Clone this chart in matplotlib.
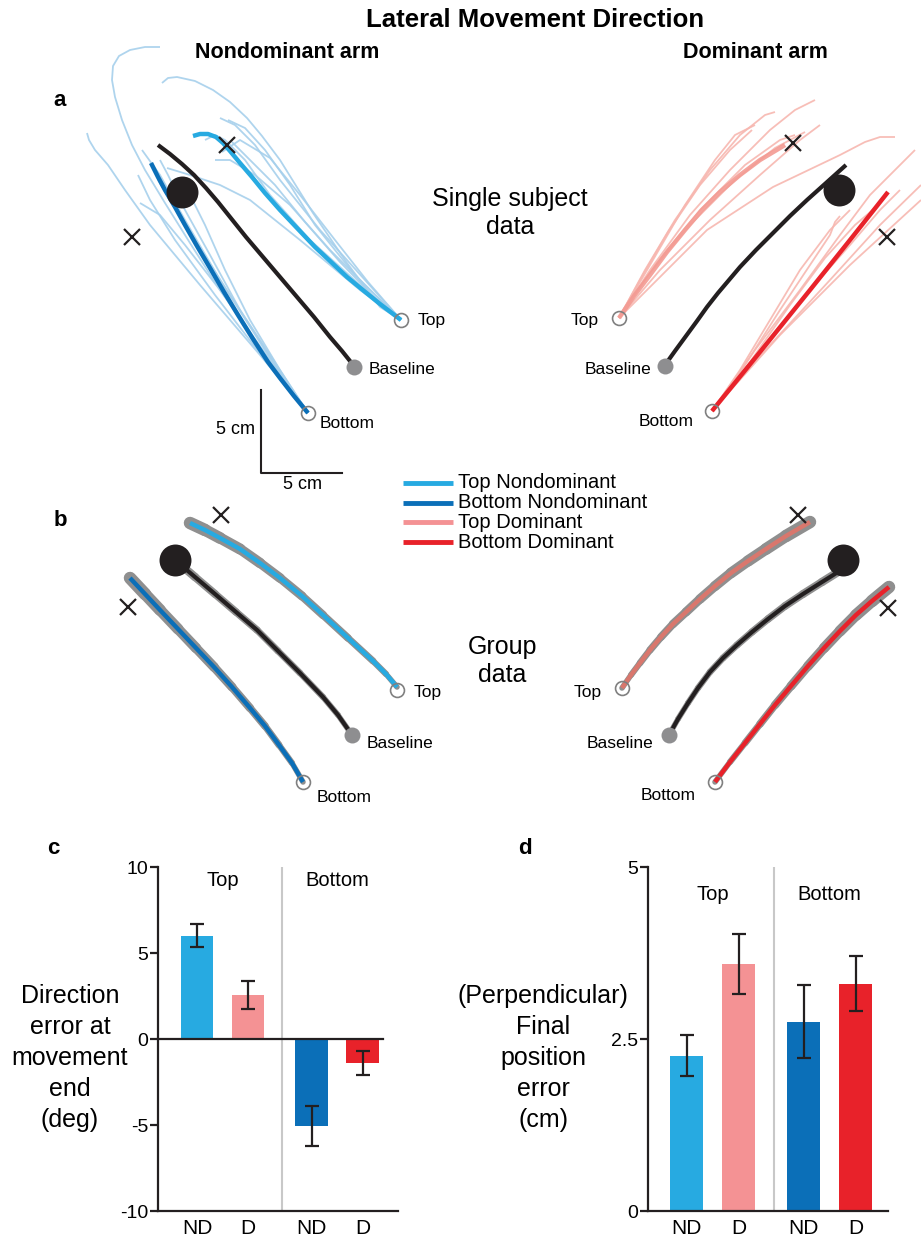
import numpy as np
import matplotlib
matplotlib.use("Agg")
import matplotlib.pyplot as plt
from matplotlib.collections import LineCollection

plt.rcParams['font.family'] = ['Liberation Sans', 'DejaVu Sans']

# ---------------- data: bar charts ----------------
bar_labels = ["ND", "D", "ND", "D"]
group_labels = ["Top", "Bottom"]
dir_err = [6.0, 2.55, -5.05, -1.4]
dir_sem = [0.68, 0.8, 1.15, 0.7]
pos_err = [2.26, 3.59, 2.75, 3.30]
pos_sem = [0.30, 0.43, 0.53, 0.40]
bar_x = [1, 2, 3.25, 4.25]
ylabel_c = ["Direction", "error at", "movement", "end", "(deg)"]
ylabel_d = ["(Perpendicular)", "Final", "position", "error", "(cm)"]

# ---------------- data: trajectories (figure pixel space) ----------------
# Panel a, nondominant arm
a_nd_baseline = [(158, 145), (170, 154), (182, 164), (194, 175), (206, 188), (218, 202), (230, 217),
                 (246, 237), (263, 257), (280, 277), (297, 297), (314, 317), (330, 337), (342, 351), (354, 366)]
a_nd_top_mean = [(193, 136), (200, 134), (208, 134), (216, 137), (223, 143), (230, 151), (240, 163),
                 (252, 177), (265, 193), (280, 210), (297, 228), (315, 247), (331, 262), (347, 277),
                 (364, 291), (380, 304), (401, 320)]
a_nd_bot_mean = [(151, 163), (158, 177), (165, 190), (175, 207), (185, 225), (197, 246), (210, 268),
                 (224, 292), (238, 315), (253, 339), (268, 362), (280, 378), (294, 396), (308, 413)]
a_nd_top_trials = [
    [(401, 320), (360, 285), (310, 240), (270, 195), (245, 160), (225, 140), (215, 135), (205, 140)],
    [(401, 320), (365, 280), (320, 230), (280, 180), (255, 145), (235, 125), (220, 118)],
    [(401, 320), (370, 290), (330, 250), (290, 205), (255, 175), (230, 160), (215, 160)],
    [(401, 320), (380, 307), (347, 263), (313, 213), (280, 160), (262, 136), (247, 118), (230, 102),
     (213, 90), (195, 81), (177, 77), (168, 78), (162, 83)],
    [(401, 320), (360, 290), (300, 240), (250, 200), (220, 185), (190, 175), (167, 168)],
    [(401, 320), (355, 275), (315, 225), (290, 185), (265, 150), (245, 128), (228, 120)],
    [(401, 320), (368, 282), (335, 240), (300, 195), (270, 158), (240, 140), (222, 152)],
    [(401, 320), (372, 295), (340, 262), (305, 222), (275, 185), (250, 160), (232, 142)],
]
a_nd_bot_trials = [
    [(308, 413), (270, 360), (220, 290), (190, 243), (165, 203), (145, 170), (132, 145), (122, 120),
     (115, 97), (112, 80), (113, 66), (119, 56), (130, 50), (145, 47), (160, 47)],
    [(308, 413), (260, 355), (200, 285), (150, 225), (125, 190), (108, 165), (95, 150), (89, 140), (87, 133)],
    [(308, 413), (265, 360), (215, 295), (175, 240), (150, 200), (138, 175)],
    [(308, 413), (270, 355), (230, 295), (195, 240), (170, 200), (158, 180)],
    [(308, 413), (275, 365), (240, 310), (210, 255), (185, 210), (168, 175), (160, 160)],
    [(308, 413), (265, 350), (220, 280), (185, 220), (160, 175), (142, 150)],
    [(308, 413), (280, 370), (250, 320), (225, 270), (205, 225), (190, 195)],
    [(308, 413), (285, 385), (255, 340), (220, 290), (185, 245), (160, 215), (140, 203)],
]
a_nd_ends = [(227, 145), (132, 237)]
a_nd_targets = [(401, 320), (308, 413)]
a_nd_base_pt = (354, 367)
a_nd_big = (182, 192)

# Panel a, dominant arm
a_d_baseline = [(665, 365), (675, 351), (686, 336), (697, 321), (707, 307), (718, 293), (729, 280),
                (740, 267), (756, 250), (773, 233), (790, 216), (807, 200), (826, 183), (846, 165)]
a_d_top_mean = [(619, 318), (634, 296), (650, 275), (667, 252), (685, 230), (702, 210), (720, 192),
                (740, 175), (760, 160), (785, 145)]
a_d_bot_mean = [(712, 411), (760, 352), (810, 290), (850, 240), (888, 192)]
a_d_top_trials = [
    [(619, 318), (650, 270), (690, 215), (730, 170), (770, 130), (795, 110), (815, 100)],
    [(619, 318), (645, 270), (675, 220), (710, 170), (740, 135), (765, 115), (775, 112)],
    [(619, 318), (655, 265), (700, 210), (745, 165), (780, 140), (795, 135)],
    [(619, 318), (650, 265), (685, 205), (715, 160), (735, 135), (755, 125)],
    [(619, 318), (660, 270), (710, 220), (760, 175), (800, 140), (820, 125)],
    [(619, 318), (650, 287), (707, 230), (773, 187), (840, 155), (865, 142), (880, 137), (895, 137)],
    [(619, 318), (648, 275), (690, 225), (735, 180), (775, 148), (805, 132)],
    [(619, 318), (640, 280), (668, 232), (700, 185), (730, 150), (752, 130)],
]
a_d_bot_trials = [
    [(712, 411), (760, 350), (810, 290), (850, 245), (880, 210), (900, 190)],
    [(712, 411), (755, 350), (800, 290), (840, 235), (870, 195), (895, 170), (915, 150)],
    [(712, 411), (770, 345), (830, 280), (880, 225), (921, 185)],
    [(712, 411), (740, 370), (770, 320), (800, 270), (830, 230), (850, 210)],
    [(712, 411), (745, 365), (780, 310), (810, 265), (830, 235), (835, 222), (840, 216)],
    [(712, 411), (780, 335), (850, 265), (921, 200)],
    [(712, 411), (750, 362), (790, 305), (825, 258), (855, 225), (875, 208)],
]
a_d_ends = [(793, 143), (887, 237)]
a_d_targets = [(619, 318), (712, 411)]
a_d_base_pt = (665, 366)
a_d_big = (839, 190)

# Panel b, group means
b_nd_baseline = [(175, 560), (195, 577), (215, 594), (236, 612), (257, 630), (278, 651), (300, 673),
                 (323, 697), (338, 715), (352, 735)]
b_nd_top = [(190, 523), (205, 530), (220, 538), (240, 549), (260, 563), (280, 578), (302, 596),
            (323, 615), (348, 638), (373, 661), (386, 674), (397, 687)]
b_nd_bot = [(130, 578), (145, 594), (160, 610), (178, 629), (196, 648), (214, 667), (232, 687),
            (250, 708), (265, 726), (279, 745), (292, 763), (303, 782)]
b_nd_ends = [(221, 515), (128, 607)]
b_nd_targets = [(397, 690), (303, 782)]
b_nd_base_pt = (352, 735)
b_nd_big = (175, 560)

b_d_baseline = [(669, 735), (678, 719), (688, 703), (698, 688), (710, 672), (723, 658), (737, 645),
                (752, 632), (768, 619), (785, 606), (803, 594), (822, 582), (838, 572)]
b_d_top = [(622, 688), (631, 675), (640, 663), (650, 650), (661, 637), (673, 624), (686, 612),
           (700, 599), (715, 586), (731, 573), (748, 561), (766, 549), (786, 536), (810, 522)]
b_d_bot = [(715, 782), (730, 762), (745, 743), (760, 724), (775, 705), (791, 686), (808, 666),
           (824, 648), (840, 631), (856, 615), (872, 601), (889, 587)]
b_d_ends = [(798, 515), (888, 608)]
b_d_targets = [(622, 688), (715, 782)]
b_d_base_pt = (669, 735)
b_d_big = (843, 560)

# ---------------- styles ----------------
C_TOP_ND = '#27aae1'
C_BOT_ND = '#0b6fb8'
C_TOP_D = '#f49294'
C_BOT_D = '#e8222a'
C_THIN_ND = '#a6d0ec'
C_THIN_D = '#f7b7b0'
C_BLACK = '#231f20'
C_GRAYDOT = '#8e8e90'
C_SE = '#8f8f8f'

fig = plt.figure(figsize=(9.21, 12.40), dpi=100)
ov = fig.add_axes([0, 0, 1, 1])
ov.set_xlim(0, 921)
ov.set_ylim(1240, 0)
ov.axis('off')


def xy(pts):
    a = np.asarray(pts, dtype=float)
    return a[:, 0], a[:, 1]


def line(pts, **kw):
    x, y = xy(pts)
    ov.plot(x, y, solid_capstyle='butt', solid_joinstyle='round', **kw)


def se_band(pts, w0, w1):
    x, y = xy(pts)
    segs = [[(x[i], y[i]), (x[i + 1], y[i + 1])] for i in range(len(x) - 1)]
    lws = np.linspace(w0, w1, len(segs))
    ov.add_collection(LineCollection(segs, linewidths=lws, colors=C_SE,
                                     capstyle='round', zorder=2))


def common(ends, targets, base_pt, big):
    for e in ends:
        ov.plot(*e, marker='x', ms=12, mew=1.6, color=C_BLACK, zorder=6)
    for t in targets:
        ov.plot(*t, marker='o', ms=10, mfc='none', mec='#808080', mew=1.2, zorder=7)
    ov.plot(*base_pt, marker='o', ms=11.5, color=C_GRAYDOT, mec='none', zorder=7)
    ov.plot(*big, marker='o', ms=23, color=C_BLACK, mec='none', zorder=6)


# ---- panel a left ----
for tr in a_nd_top_trials + a_nd_bot_trials:
    line(tr, color=C_THIN_ND, lw=1.3, alpha=0.9, zorder=2)
line(a_nd_baseline, color=C_BLACK, lw=3, zorder=4)
line(a_nd_top_mean, color=C_TOP_ND, lw=3.2, zorder=4)
line(a_nd_bot_mean, color=C_BOT_ND, lw=3.2, zorder=4)
common(a_nd_ends, a_nd_targets, a_nd_base_pt, a_nd_big)

# ---- panel a right ----
for tr in a_d_top_trials + a_d_bot_trials:
    line(tr, color=C_THIN_D, lw=1.3, alpha=0.9, zorder=2)
line(a_d_baseline, color=C_BLACK, lw=3, zorder=4)
line(a_d_top_mean, color='#f39a92', lw=3.2, zorder=4, alpha=0.9)
line(a_d_bot_mean, color=C_BOT_D, lw=3.2, zorder=4)
common(a_d_ends, a_d_targets, a_d_base_pt, a_d_big)

# ---- panel b left ----
se_band(b_nd_top, 9, 4)
se_band(b_nd_baseline, 6, 4)
se_band(b_nd_bot, 9, 4)
line(b_nd_top, color=C_TOP_ND, lw=3.2, zorder=4)
line(b_nd_baseline, color=C_BLACK, lw=3, zorder=4)
line(b_nd_bot, color=C_BOT_ND, lw=3.2, zorder=4)
common(b_nd_ends, b_nd_targets, b_nd_base_pt, b_nd_big)

# ---- panel b right ----
se_band(b_d_top, 4, 9)
se_band(b_d_baseline, 4, 6)
se_band(b_d_bot, 4, 9)
line(b_d_top, color='#d9776d', lw=3.2, zorder=4)
line(b_d_baseline, color=C_BLACK, lw=3, zorder=4)
line(b_d_bot, color=C_BOT_D, lw=3.2, zorder=4)
common(b_d_ends, b_d_targets, b_d_base_pt, b_d_big)

# ---- scale bar ----
ov.plot([261, 261, 342], [390, 473, 473], color=C_BLACK, lw=1.5)
ov.text(255, 430, "5 cm", ha='right', va='center', fontsize=13)
ov.text(302, 476, "5 cm", ha='center', va='top', fontsize=13)

# ---- target labels ----
lab = dict(fontsize=12.5, va='center')
ov.text(418, 321, "Top", ha='left', **lab)
ov.text(369, 369, "Baseline", ha='left', **lab)
ov.text(320, 423, "Bottom", ha='left', **lab)
ov.text(599, 320, "Top", ha='right', **lab)
ov.text(651, 370, "Baseline", ha='right', **lab)
ov.text(694, 421, "Bottom", ha='right', **lab)
ov.text(414, 693, "Top", ha='left', **lab)
ov.text(367, 743, "Baseline", ha='left', **lab)
ov.text(317, 797, "Bottom", ha='left', **lab)
ov.text(602, 693, "Top", ha='right', **lab)
ov.text(653, 743, "Baseline", ha='right', **lab)
ov.text(696, 795, "Bottom", ha='right', **lab)

# ---- titles ----
ov.text(535, 20, "Lateral Movement Direction", ha='center', va='center', fontsize=18.5, fontweight='bold')
ov.text(287, 53, "Nondominant arm", ha='center', va='center', fontsize=15.5, fontweight='bold')
ov.text(755, 53, "Dominant arm", ha='center', va='center', fontsize=15.5, fontweight='bold')
ov.text(510, 213, "Single subject\ndata", ha='center', va='center', fontsize=18, linespacing=1.25)
ov.text(502, 661, "Group\ndata", ha='center', va='center', fontsize=18, linespacing=1.25)
for letter, (px, py) in {"a": (60, 100), "b": (60, 520), "c": (53, 849), "d": (525, 849)}.items():
    ov.text(px, py, letter, ha='center', va='center', fontsize=16, fontweight='bold')

# ---- legend ----
leg_names = ["Top Nondominant", "Bottom Nondominant", "Top Dominant", "Bottom Dominant"]
leg_cols = [C_TOP_ND, C_BOT_ND, C_TOP_D, C_BOT_D]
for i, (nm, c) in enumerate(zip(leg_names, leg_cols)):
    yy = 483 + i * 19.7
    ov.plot([403, 453], [yy, yy], color=c, lw=3.5, solid_capstyle='butt')
    ov.text(458, yy, nm, ha='left', va='center', fontsize=14.5)

# ---- bar chart helpers ----
bar_cols = [C_TOP_ND, C_TOP_D, C_BOT_ND, C_BOT_D]


def bar_axes(left_px, right_px, xlo, xhi):
    top_px, bot_px = 867, 1211
    ax = fig.add_axes([left_px / 921, (1240 - bot_px) / 1240,
                       (right_px - left_px) / 921, (bot_px - top_px) / 1240])
    ax.set_facecolor('none')
    ax.set_xlim(xlo, xhi)
    for s in ['top', 'right']:
        ax.spines[s].set_visible(False)
    for s in ['left', 'bottom']:
        ax.spines[s].set_linewidth(1.6)
        ax.spines[s].set_color(C_BLACK)
    ax.tick_params(axis='y', length=6, width=1.6, color=C_BLACK, pad=1, labelsize=14)
    ax.tick_params(axis='x', length=0, pad=6, labelsize=15)
    ax.set_xticks(bar_x)
    ax.set_xticklabels(bar_labels)
    return ax


# panel c
axc = bar_axes(158, 398, 0.235, 4.94)
axc.set_ylim(-10, 10)
axc.bar(bar_x, dir_err, width=0.64, color=bar_cols, zorder=2)
axc.errorbar(bar_x, dir_err, yerr=dir_sem, fmt='none', ecolor=C_BLACK, elinewidth=1.6,
             capsize=5, capthick=1.6, zorder=3)
axc.set_yticks([-10, -5, 0, 5, 10])
axc.set_yticklabels(["-10", "-5", "0", "5", "10"])
axc.plot([0.235, 4.65], [0, 0], color=C_BLACK, lw=1.6, zorder=4, clip_on=False)
axc.axvline(2.67, color='#c8c8c8', lw=1.5, zorder=1)
axc.text(1.5, 9.2, group_labels[0], ha='center', va='center', fontsize=14.5)
axc.text(3.75, 9.2, group_labels[1], ha='center', va='center', fontsize=14.5)

# panel d
axd = bar_axes(648, 888, 0.256, 4.87)
axd.set_ylim(0, 5)
axd.bar(bar_x, pos_err, width=0.64, color=bar_cols, zorder=2)
axd.errorbar(bar_x, pos_err, yerr=pos_sem, fmt='none', ecolor=C_BLACK, elinewidth=1.6,
             capsize=5, capthick=1.6, zorder=3)
axd.set_yticks([0, 2.5, 5])
axd.set_yticklabels(["0", "2.5", "5"])
axd.axvline(2.67, color='#c8c8c8', lw=1.5, zorder=1)
axd.text(1.5, 4.6, group_labels[0], ha='center', va='center', fontsize=14.5)
axd.text(3.75, 4.6, group_labels[1], ha='center', va='center', fontsize=14.5)

# y labels (one text per line)
for i, (lc, ld) in enumerate(zip(ylabel_c, ylabel_d)):
    yy = 996 + i * 31
    ov.text(70, yy, lc, ha='center', va='center', fontsize=18)
    ov.text(543, yy, ld, ha='center', va='center', fontsize=18)

fig.savefig("out.png", dpi=100)
